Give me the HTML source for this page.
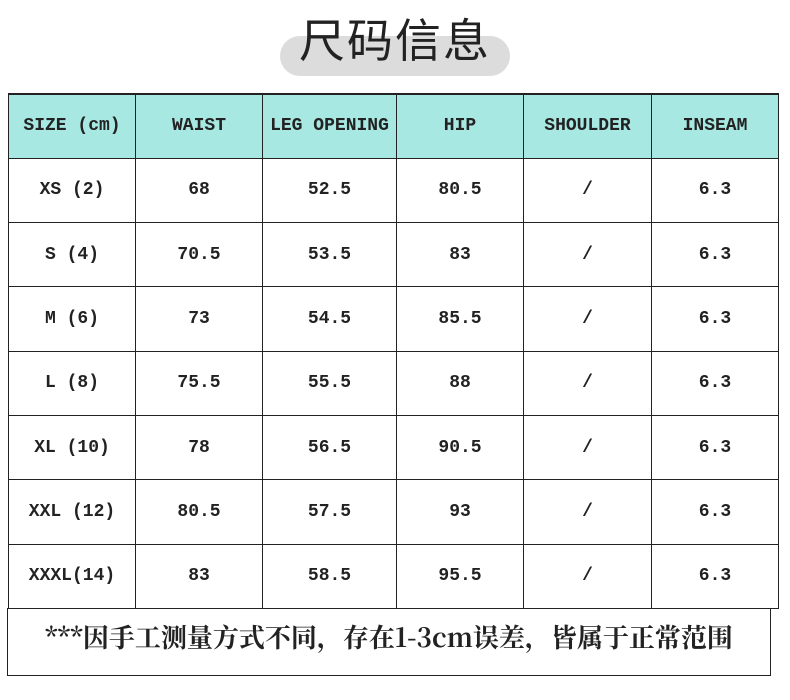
<!DOCTYPE html>
<html><head><meta charset="utf-8"><style>
body{margin:0;width:790px;height:700px;background:#fff;position:relative;overflow:hidden;font-family:"Liberation Mono","Noto Serif CJK SC",monospace;}
.pill{position:absolute;left:280px;top:36px;width:230px;height:40px;border-radius:20px;background:#dcdcdc;}
.title{position:absolute;left:0;width:790px;top:8px;text-align:center;font-family:"Noto Sans CJK SC",sans-serif;font-size:46px;line-height:60px;color:#222;letter-spacing:2px;}
table{position:absolute;left:8px;top:93px;border-collapse:collapse;border-top:2.5px solid #222;}
td{border:1.5px solid #222;text-align:center;font-weight:bold;font-size:18px;color:#222;height:64px;box-sizing:border-box;padding:0;white-space:nowrap;line-height:20px;}
tr{height:64.3px;}
tr.h td{background:#a8e8e2;}
.foot{position:absolute;left:7px;top:608px;width:762px;height:67px;border:1.5px solid #222;border-top:none;font-family:"Noto Serif CJK SC",serif;font-weight:bold;font-size:26px;line-height:58px;text-align:center;color:#222;}
</style></head><body>
<div class="pill"></div>
<div class="title">尺码信息</div>
<table>
<colgroup><col style="width:127px"><col style="width:127px"><col style="width:134px"><col style="width:127px"><col style="width:128px"><col style="width:127px"></colgroup>
<tr class="h"><td>SIZE (cm)</td><td>WAIST</td><td>LEG OPENING</td><td>HIP</td><td>SHOULDER</td><td>INSEAM</td></tr>
<tr><td>XS (2)</td><td>68</td><td>52.5</td><td>80.5</td><td>/</td><td>6.3</td></tr>
<tr><td>S (4)</td><td>70.5</td><td>53.5</td><td>83</td><td>/</td><td>6.3</td></tr>
<tr><td>M (6)</td><td>73</td><td>54.5</td><td>85.5</td><td>/</td><td>6.3</td></tr>
<tr><td>L (8)</td><td>75.5</td><td>55.5</td><td>88</td><td>/</td><td>6.3</td></tr>
<tr><td>XL (10)</td><td>78</td><td>56.5</td><td>90.5</td><td>/</td><td>6.3</td></tr>
<tr><td>XXL (12)</td><td>80.5</td><td>57.5</td><td>93</td><td>/</td><td>6.3</td></tr>
<tr><td>XXXL(14)</td><td>83</td><td>58.5</td><td>95.5</td><td>/</td><td>6.3</td></tr>
</table>
<div class="foot">***因手工测量方式不同，存在1-3cm误差，皆属于正常范围</div>
</body></html>
